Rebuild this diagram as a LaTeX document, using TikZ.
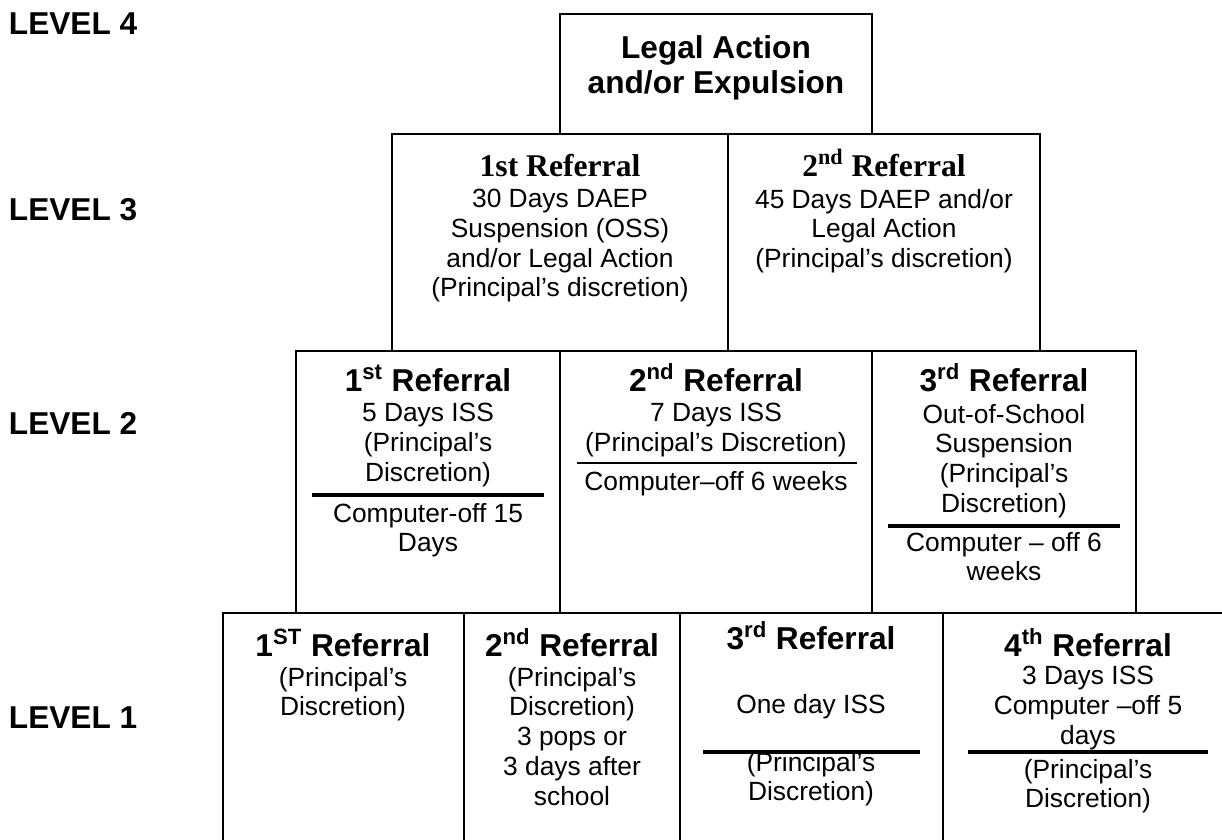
\documentclass[tikz,border=0pt]{standalone}
\usepackage{fontspec}
\setmainfont{Liberation Sans}
\newfontfamily\serifhead{Liberation Serif}
\usetikzlibrary{positioning}

\begin{document}
\begin{tikzpicture}[
    x=0.02cm, y=-0.02cm,
    line width=1.1pt,
    %
    cell/.style={draw=black, rectangle, anchor=north west, inner sep=0pt, outer sep=0pt},
    head/.style={font=\fontsize{18}{20}\selectfont\bfseries, inner sep=0pt, anchor=base},
    serhead/.style={head, font=\fontsize{18}{20}\selectfont\serifhead\bfseries},
    body/.style={font=\fontsize{15}{17}\selectfont, align=center, inner sep=0pt, anchor=north,
                 execute at begin node={\rule{0pt}{12pt}}},
    level/.style={font=\fontsize{18}{20}\selectfont\bfseries, inner sep=0pt, anchor=west},
    %
    split/.style={line width=2.3pt},
    thinsplit/.style={line width=1.1pt}
    ]

    \useasboundingbox (0,0) rectangle (1222,839);
    \clip (0,0) rectangle (1222,839);

    % level labels
    \node[level] (lv4) at (8,24)  {LEVEL 4};
    \node[level] (lv3) at (8,210) {LEVEL 3};
    \node[level] (lv2) at (8,423) {LEVEL 2};
    \node[level] (lv1) at (8,718) {LEVEL 1};

    % the cells, row by row
    \node[cell, minimum width=6.24cm, minimum height=2.4cm]  (l4)  at (560,14)  {};
    \node[cell, minimum width=6.72cm, minimum height=4.34cm] (l3a) at (392,134) {};
    \node[cell, minimum width=6.24cm, minimum height=4.34cm] (l3b) at (728,134) {};
    \node[cell, minimum width=5.28cm, minimum height=5.24cm] (l2a) at (296,351) {};
    \node[cell, minimum width=6.24cm, minimum height=5.24cm] (l2b) at (560,351) {};
    \node[cell, minimum width=5.28cm, minimum height=5.24cm] (l2c) at (872,351) {};
    \node[cell, minimum width=4.82cm, minimum height=4.94cm] (l1a) at (223,613) {};
    \node[cell, minimum width=4.32cm, minimum height=4.94cm] (l1b) at (464,613) {};
    \node[cell, minimum width=5.26cm, minimum height=4.94cm] (l1c) at (680,613) {};
    \node[cell, minimum width=5.94cm, minimum height=4.94cm] (l1d) at (943,613) {};

    % level 4
    \node[head, align=center, anchor=north, font=\fontsize{18}{19.8}\selectfont\bfseries]
        (l4-text) at (716,35) {\rule{0pt}{13pt}Legal Action\\and/or Expulsion};

    % level 3
    \node[serhead] (l3a-head) at (560,176) {1st Referral};
    \node[body]    (l3a-body) at (560,188) {30 Days DAEP\\Suspension (OSS)\\and/or Legal Action\\(Principal’s discretion)};
    \node[serhead] (l3b-head) at (884,176) {2\textsuperscript{nd} Referral};
    \node[body]    (l3b-body) at (884,188) {45 Days DAEP and/or\\Legal Action\\(Principal’s discretion)};

    % level 2
    \node[head] (l2a-head) at (428,391) {1\textsuperscript{st} Referral};
    \node[body] (l2a-body) at (428,402) {5 Days ISS\\(Principal’s\\Discretion)};
    \draw[split] (312,495) -- (544,495);
    \node[body] (l2a-extra) at (428,502) {Computer-off 15\\Days};

    \node[head] (l2b-head) at (716,391) {2\textsuperscript{nd} Referral};
    \node[body] (l2b-body) at (716,402) {7 Days ISS\\(Principal’s Discretion)};
    \draw[thinsplit] (577,463) -- (857,463);
    \node[body] (l2b-extra) at (716,468) {Computer–off 6 weeks};

    \node[head] (l2c-head) at (1004,391) {3\textsuperscript{rd} Referral};
    \node[body] (l2c-body) at (1004,403) {Out-of-School\\Suspension\\(Principal’s\\Discretion)};
    \draw[split] (888,526) -- (1120,526);
    \node[body] (l2c-extra) at (1004,531) {Computer – off 6\\weeks};

    % level 1
    \node[head] (l1a-head) at (343,656) {1\textsuperscript{ST} Referral};
    \node[body] (l1a-body) at (343,666) {(Principal’s\\Discretion)};

    \node[head] (l1b-head) at (572,656) {2\textsuperscript{nd} Referral};
    \node[body] (l1b-body) at (572,666) {(Principal’s\\Discretion)\\3 pops or\\3 days after\\school};

    \node[head] (l1c-head) at (811,649) {3\textsuperscript{rd} Referral};
    \node[body] (l1c-body) at (811,691) {One day ISS};
    \node[body] (l1c-extra) at (811,751) {(Principal’s\\Discretion)};
    \draw[split] (703,752) -- (920,752);

    \node[head] (l1d-head) at (1088,656) {4\textsuperscript{th} Referral};
    \node[body] (l1d-body) at (1088,665) {3 Days ISS\\Computer –off 5\\days};
    \node[body] (l1d-extra) at (1088,758) {(Principal’s\\Discretion)};
    \draw[split] (968,752) -- (1208,752);

\end{tikzpicture}
\end{document}
